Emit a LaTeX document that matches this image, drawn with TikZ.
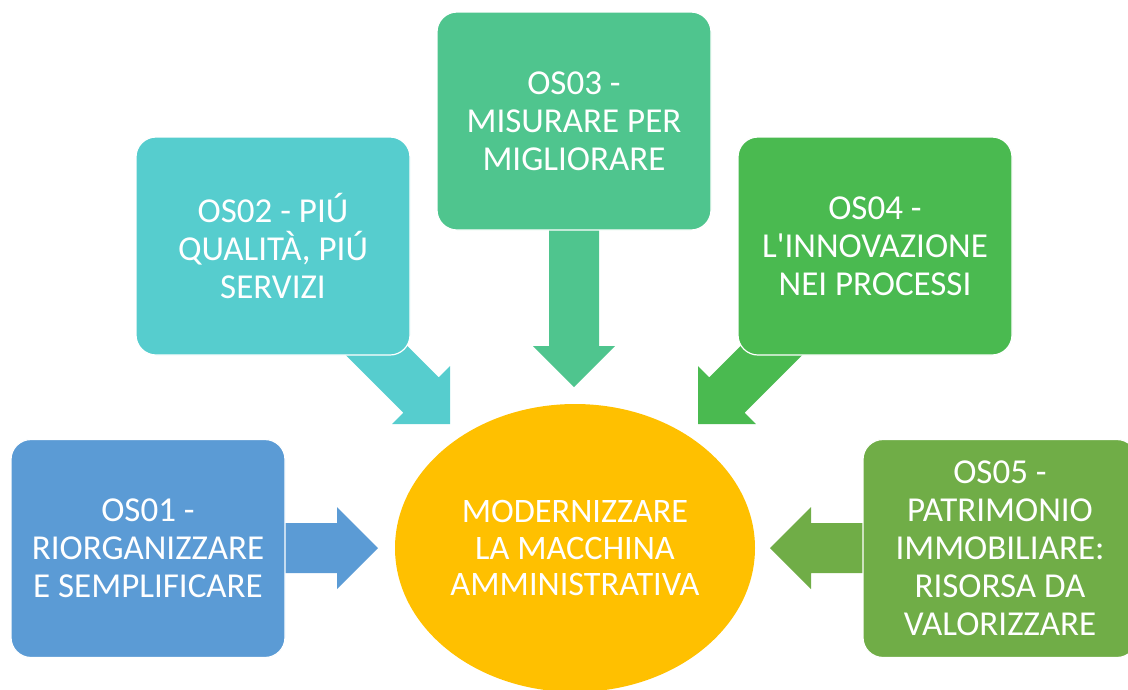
\documentclass[tikz,border=0pt]{standalone}
\usepackage{fontspec}
\setmainfont{Carlito}[Ligatures=TeXOff]
\definecolor{cOne}{RGB}{91,155,213}
\definecolor{cTwo}{RGB}{86,205,206}
\definecolor{cThree}{RGB}{79,197,142}
\definecolor{cFour}{RGB}{74,186,80}
\definecolor{cFive}{RGB}{112,173,71}
\definecolor{cMid}{RGB}{255,192,0}
\tikzset{
  osbox/.style={rounded corners=20pt, minimum width=274pt, minimum height=218pt,
    draw=white, line width=1.2pt, text=white, align=center, inner sep=0pt,
    font=\fontsize{35}{38}\selectfont},
  midell/.style={ellipse, minimum width=360pt, minimum height=288pt, fill=cMid,
    text=white, align=center, inner sep=0pt, font=\fontsize{34.3}{36.5}\selectfont},
}
\usetikzlibrary{shapes.geometric}
% block arrow: #1 tip coordinate, #2 rotation, #3 colour, #4 length
\newcommand\blockarrow[4]{%
  \begin{scope}[shift={(#1)}, rotate=#2]
    \fill[#3] (0,0) -- (-41,41) -- (-41,25) -- (-#4,25) -- (-#4,-25)
      -- (-41,-25) -- (-41,-41) -- cycle;
  \end{scope}}
\begin{document}
\begin{tikzpicture}[x=1pt,y=-1pt]
\useasboundingbox (0,0) rectangle (1128,689);
\clip (0,0) rectangle (1128,689);
% tips of the block arrows
\coordinate (t1) at (378,548);
\coordinate (t2) at (450,424);
\coordinate (t3) at (574,387);
\coordinate (t4) at (698,424);
\coordinate (t5) at (770,548);
\blockarrow{t1}{0}{cOne}{98}
\blockarrow{t2}{-45}{cTwo}{125}
\blockarrow{t3}{-90}{cThree}{162}
\blockarrow{t4}{-135}{cFour}{125}
\blockarrow{t5}{180}{cFive}{98}
\node[osbox, fill=cOne] (os1) at (148,548.5) {OS01 -\\RIORGANIZZARE\\E SEMPLIFICARE};
\node[osbox, fill=cTwo] (os2) at (273,246) {OS02 - PIÚ\\QUALITÀ, PIÚ\\SERVIZI};
\node[osbox, fill=cThree] (os3) at (574,121) {OS03 -\\MISURARE PER\\MIGLIORARE};
\node[osbox, fill=cFour] (os4) at (875,246) {OS04 -\\L'INNOVAZIONE\\NEI PROCESSI};
\node[osbox, fill=cFive] (os5) at (1000,548.5) {OS05 -\\PATRIMONIO\\IMMOBILIARE:\\RISORSA DA\\VALORIZZARE};
\node[midell] (mid) at (575,548) {MODERNIZZARE\\LA MACCHINA\\AMMINISTRATIVA};
\end{tikzpicture}
\end{document}
